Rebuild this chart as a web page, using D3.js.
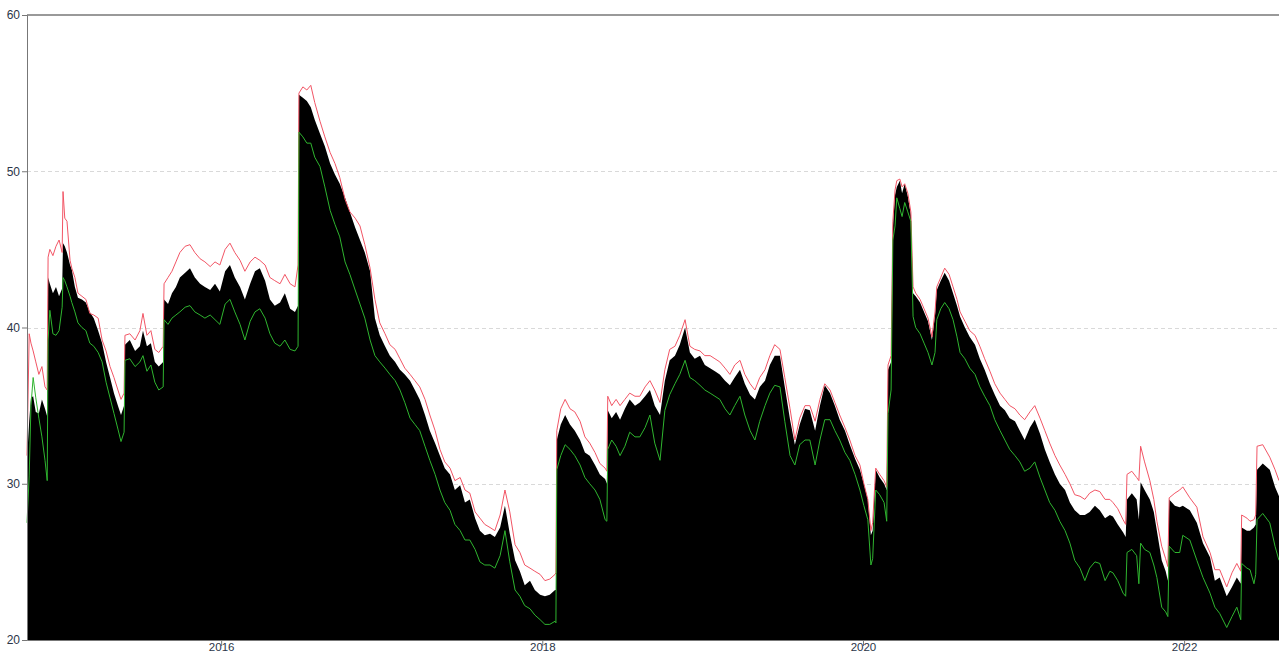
<!DOCTYPE html>
<html>
<head>
<meta charset="utf-8">
<script src="https://cdn.jsdelivr.net/npm/d3@7"></script>
<style>
  html, body { margin: 0; padding: 0; background: #fff; }
  svg { display: block; }
</style>
</head>
<body>
<svg id="chart" width="1279" height="657"></svg>
<script>
// Series start date; each sample is stored as a day offset from it.
const START = "2014-10-16";
const END_OFFSET = 2850;

const days = [0,5,9,14,20,27,34,41,46,48,52,59,66,73,80,82,86,91,98,102,109,116,125,134,143,152,162,171,180,189,198,207,214,221,223,234,246,257,264,273,282,291,300,310,312,321,330,339,348,360,371,382,394,405,417,428,439,451,462,473,485,496,508,519,530,542,553,564,576,587,599,610,617,619,628,637,646,655,667,678,690,701,712,724,735,747,758,769,781,792,803,815,826,838,849,860,872,883,894,906,917,929,940,951,963,974,986,997,1008,1020,1031,1042,1054,1065,1077,1088,1099,1111,1122,1133,1145,1156,1168,1179,1190,1202,1204,1206,1215,1225,1236,1247,1259,1270,1281,1293,1304,1316,1320,1322,1331,1341,1350,1361,1372,1384,1395,1407,1418,1429,1441,1452,1463,1475,1486,1498,1509,1520,1532,1543,1555,1566,1577,1589,1600,1611,1623,1634,1646,1657,1668,1680,1691,1702,1714,1725,1737,1748,1759,1771,1782,1794,1805,1816,1828,1839,1850,1862,1873,1885,1896,1905,1914,1921,1925,1932,1941,1951,1957,1960,1967,1971,1976,1980,1987,1992,1998,2005,2012,2017,2023,2033,2042,2051,2060,2067,2071,2080,2089,2099,2108,2117,2124,2135,2146,2158,2169,2180,2192,2203,2215,2226,2237,2249,2260,2271,2283,2294,2306,2317,2328,2340,2351,2363,2374,2385,2397,2408,2419,2431,2442,2454,2465,2472,2483,2495,2501,2504,2515,2526,2531,2535,2544,2556,2565,2572,2583,2592,2597,2600,2613,2624,2631,2647,2663,2677,2693,2704,2715,2731,2743,2754,2763,2765,2777,2784,2793,2797,2800,2813,2829,2841,2850];

// Filled series (black area)
const mainValues = [31.5,34.0,35.5,35.6,34.6,34.5,35.4,34.8,34.3,43.2,42.8,42.2,42.6,42.0,42.5,45.4,45.2,44.8,44.0,43.7,42.6,41.9,41.8,41.6,41.0,40.6,39.8,39.0,37.8,36.8,35.8,35.0,34.4,35.0,38.9,39.2,38.5,38.8,39.8,38.8,39.0,37.8,37.5,37.8,41.8,41.5,42.2,42.6,43.2,43.5,43.8,43.2,42.8,42.6,42.4,42.8,42.3,43.6,44.0,43.2,42.6,41.8,42.8,43.6,43.8,43.0,41.8,41.4,41.6,42.2,41.2,41.0,41.4,54.9,54.7,54.5,54.1,53.3,52.4,51.6,50.5,49.8,49.2,48.3,47.4,46.4,45.6,44.8,43.6,40.6,39.5,38.8,38.2,37.8,37.3,37.0,36.6,36.0,35.4,34.4,33.4,32.6,31.8,31.0,30.6,29.6,29.9,28.8,29.0,27.8,27.0,26.7,26.8,26.6,27.2,28.6,26.8,25.1,24.4,23.5,23.8,23.2,22.9,22.8,22.9,23.2,23.2,32.8,33.8,34.4,33.8,33.4,32.8,32.0,31.8,31.2,30.6,30.3,30.0,34.7,34.2,34.6,34.1,34.8,35.4,35.0,35.2,35.6,36.0,35.0,34.4,36.6,37.9,38.2,38.9,40.0,38.4,38.0,38.2,37.6,37.4,37.2,37.0,36.6,36.3,36.8,37.3,36.4,35.7,35.4,36.2,36.6,37.6,38.2,38.2,36.2,34.1,32.5,33.8,34.8,34.7,33.4,35.0,36.3,35.8,35.0,34.1,33.4,32.5,31.6,30.9,30.0,29.0,26.7,27.0,30.9,30.4,30.0,29.6,37.3,37.8,46.4,48.5,49.0,49.4,48.6,49.2,48.4,47.2,42.2,42.0,41.6,41.0,40.4,39.2,40.8,42.4,43.0,43.5,43.0,42.2,41.4,40.7,40.0,39.4,38.9,38.0,37.3,36.4,35.7,35.0,34.7,34.2,34.0,33.4,32.8,33.6,34.1,33.2,32.2,31.4,30.6,30.0,29.6,28.8,28.3,28.0,28.0,28.2,28.6,28.3,27.8,28.0,27.9,27.4,26.9,26.6,29.0,29.4,29.0,27.7,30.1,29.6,29.0,28.2,27.0,25.1,24.4,23.8,29.0,28.6,28.5,28.6,28.3,27.5,26.2,25.3,23.8,24.0,22.8,23.4,24.0,23.6,27.2,27.0,27.0,27.2,27.4,30.9,31.3,30.9,29.8,29.2];

// Upper band (red line)
const upperValues = [31.8,39.6,39.0,38.5,37.8,37.0,37.5,36.2,36.0,44.5,45.0,44.6,45.2,45.6,44.8,48.7,47.0,46.8,44.3,43.8,43.2,42.2,42.0,41.8,40.9,40.8,40.6,39.2,38.5,37.5,36.8,36.0,35.4,35.8,39.5,39.6,39.2,39.8,40.9,39.5,39.8,38.6,38.4,38.8,42.8,43.2,43.6,44.2,44.8,45.2,45.3,44.8,44.4,44.2,43.9,44.2,44.0,45.0,45.4,44.8,44.3,43.6,44.2,44.5,44.3,44.0,43.2,43.0,42.8,43.4,42.8,42.6,44.0,55.0,55.4,55.2,55.5,54.4,53.2,52.2,51.2,50.5,49.6,48.2,47.4,47.0,46.5,45.3,43.8,41.8,40.3,39.6,38.9,38.6,38.0,37.4,37.0,36.6,36.2,35.4,34.4,33.4,32.2,31.4,31.0,30.2,30.4,29.6,29.4,28.2,27.8,27.4,27.2,27.0,28.0,29.6,28.2,26.1,25.6,24.8,24.6,24.4,24.2,23.8,23.9,24.2,24.3,33.4,34.8,35.4,34.8,34.6,34.0,33.0,32.6,32.0,31.3,31.0,30.8,35.6,35.0,35.4,35.0,35.4,35.8,35.6,35.6,36.2,36.6,36.0,35.2,37.3,38.6,38.8,39.5,40.5,38.8,38.6,38.5,38.2,38.2,38.0,37.8,37.4,37.0,37.6,37.9,37.0,36.4,36.0,36.8,37.3,38.2,38.9,38.6,36.8,34.8,32.8,34.2,35.0,35.0,34.0,35.4,36.4,36.0,35.2,34.4,33.6,32.8,31.8,31.2,30.0,29.0,27.0,27.5,31.0,30.6,30.2,29.8,37.6,38.2,46.8,48.8,49.4,49.5,49.0,49.2,48.6,47.4,42.6,42.2,41.8,41.2,40.6,39.4,41.0,42.6,43.2,43.8,43.4,42.6,41.8,41.0,40.4,39.8,39.5,38.8,38.0,37.2,36.4,35.8,35.4,35.0,34.8,34.4,34.1,34.6,35.0,34.2,33.4,32.6,31.8,31.2,30.6,30.0,29.3,29.2,29.0,29.4,29.6,29.5,29.0,29.0,28.8,28.4,27.7,27.4,30.6,30.8,30.4,30.2,32.4,31.4,30.2,29.0,27.6,26.0,25.2,24.7,29.1,29.4,29.6,29.8,29.1,28.5,26.6,25.6,24.5,24.5,23.4,24.3,24.9,24.4,28.0,27.8,27.6,27.7,28.0,32.4,32.5,31.7,30.9,30.2];

// Lower band (green line)
const lowerValues = [27.5,30.5,35.0,36.8,35.5,34.2,33.0,31.5,30.2,39.2,41.1,39.6,39.5,39.8,41.3,43.2,43.0,42.6,42.0,41.6,41.0,40.3,40.0,39.8,39.0,38.8,38.4,37.8,36.5,35.5,34.5,33.5,32.7,33.3,37.9,38.0,37.5,37.8,38.2,37.2,37.6,36.5,36.0,36.2,40.5,40.2,40.6,40.8,41.0,41.3,41.4,41.0,40.8,40.6,40.8,40.5,40.2,41.5,41.8,41.0,40.2,39.2,40.4,41.0,41.2,40.6,39.6,39.0,38.8,39.2,38.6,38.5,38.8,52.5,52.2,51.8,51.8,50.9,50.3,49.0,47.5,46.6,45.8,44.2,43.4,42.4,41.5,40.6,39.2,38.2,37.8,37.4,37.0,36.6,36.0,35.2,34.2,33.8,33.4,32.4,31.5,30.6,29.6,28.8,28.3,27.4,27.0,26.4,26.4,25.8,25.0,24.8,24.8,24.6,25.4,27.0,25.0,23.2,22.8,22.2,22.0,21.6,21.3,21.0,21.0,21.2,21.1,30.9,31.8,32.5,32.2,31.8,31.2,30.4,30.0,29.6,29.0,27.7,27.6,32.2,32.8,32.4,31.8,32.4,33.3,33.0,33.0,33.6,34.4,32.6,31.5,34.7,35.7,36.4,37.0,37.9,36.8,36.6,36.3,36.0,35.8,35.6,35.4,34.8,34.4,35.0,35.6,34.4,33.4,32.8,34.0,35.0,35.8,36.3,36.2,34.0,31.8,31.2,32.5,32.8,32.8,31.2,32.8,34.1,34.1,33.4,32.8,32.0,31.5,30.6,29.6,28.6,27.7,24.8,25.2,29.6,29.3,28.8,27.6,34.5,36.0,45.6,46.5,48.3,47.6,47.1,48.0,47.4,46.8,40.7,40.0,39.6,39.0,38.4,37.6,38.4,40.5,41.2,41.6,41.2,40.5,39.4,38.4,38.0,37.4,37.0,36.2,35.6,35.0,34.1,33.4,32.8,32.2,31.8,31.4,30.8,31.0,31.4,30.4,29.6,28.8,28.3,27.6,27.0,26.2,25.1,24.6,23.8,24.6,25.0,24.9,23.8,24.4,24.3,23.8,23.0,22.8,25.6,25.8,25.4,23.6,26.2,25.8,25.6,24.8,24.0,22.1,21.8,21.5,26.0,25.6,25.6,26.7,26.4,25.1,24.0,23.0,22.1,21.7,20.8,21.5,22.1,21.3,24.9,24.6,24.5,23.6,24.2,27.7,28.1,27.5,26.0,25.1];

const yTicks = [20, 30, 40, 50, 60];
const gridValues = [30, 40, 50];

const parseDate = d3.timeParse("%Y-%m-%d");
const startDate = parseDate(START);
const n = Math.min(days.length, mainValues.length, upperValues.length, lowerValues.length);
const rows = d3.range(n).map(i => ({
  date: d3.timeDay.offset(startDate, days[i]),
  main: mainValues[i],
  upper: upperValues[i],
  lower: lowerValues[i]
}));

const svg = d3.select("#chart");
const plotLeft = 27, plotRight = 1279, plotTop = 15, plotBottom = 640;

const x = d3.scaleTime()
  .domain([startDate, d3.timeDay.offset(startDate, END_OFFSET)])
  .range([plotLeft, plotRight]);
const y = d3.scaleLinear().domain([20, 60]).range([plotBottom, plotTop]);

// dashed horizontal grid
svg.append("g")
  .selectAll("line")
  .data(gridValues)
  .join("line")
  .attr("x1", plotLeft).attr("x2", plotRight)
  .attr("y1", d => Math.round(y(d)) + 0.5)
  .attr("y2", d => Math.round(y(d)) + 0.5)
  .attr("stroke", "#d9d9d9")
  .attr("stroke-dasharray", "4,3");

// filled area
const area = d3.area()
  .x(d => x(d.date))
  .y0(y(20))
  .y1(d => y(d.main));

svg.append("path")
  .datum(rows)
  .attr("d", area)
  .attr("fill", "#000");

const line = key => d3.line().x(d => x(d.date)).y(d => y(d[key]));

svg.append("path")
  .datum(rows)
  .attr("d", line("upper"))
  .attr("fill", "none")
  .attr("stroke", "#f25565")
  .attr("stroke-width", 1);

svg.append("path")
  .datum(rows)
  .attr("d", line("lower"))
  .attr("fill", "none")
  .attr("stroke", "#2fb52f")
  .attr("stroke-width", 1);

// top frame line
svg.append("line")
  .attr("x1", plotLeft).attr("x2", plotRight)
  .attr("y1", plotTop).attr("y2", plotTop)
  .attr("stroke", "#999").attr("stroke-width", 2);

// y axis
const yAxis = svg.append("g")
  .attr("transform", `translate(${plotLeft},0)`)
  .call(d3.axisLeft(y).tickValues(yTicks).tickSize(5).tickPadding(2));
yAxis.select(".domain").attr("stroke", "#777");
yAxis.selectAll(".tick line").attr("stroke", "#777");
yAxis.selectAll("text")
  .attr("fill", "#2b3548")
  .style("font-family", "Arial, 'Liberation Sans', sans-serif")
  .style("font-size", "12px");

// x axis
const xAxis = svg.append("g")
  .attr("transform", `translate(0,${plotBottom})`)
  .call(d3.axisBottom(x).ticks(d3.timeYear.every(2)).tickFormat(d3.timeFormat("%Y")).tickSize(6).tickSizeOuter(0));
xAxis.select(".domain").attr("stroke", "#777");
xAxis.selectAll(".tick line").attr("stroke", "#777");
xAxis.selectAll("text")
  .attr("y", 3)
  .attr("fill", "#2b3548")
  .style("font-family", "Arial, 'Liberation Sans', sans-serif")
  .style("font-size", "11.5px");
</script>
</body>
</html>
